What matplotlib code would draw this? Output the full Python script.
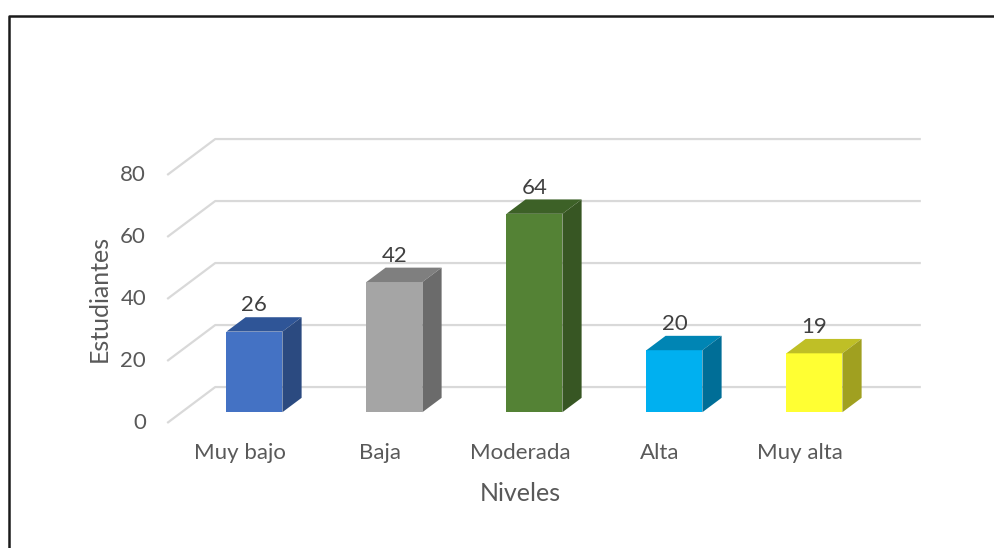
import numpy as np
import matplotlib.pyplot as plt
from matplotlib.patches import Polygon
from matplotlib.lines import Line2D

plt.rcParams['font.family'] = ['Lato', 'DejaVu Sans']

categorias = ["Muy bajo", "Baja", "Moderada", "Alta", "Muy alta"]
valores = [26, 42, 64, 20, 19]
ticks_y = [0, 20, 40, 60, 80]
col_frente = ["#4472C4", "#A5A5A5", "#548235", "#00B0F0", "#FFFF33"]
col_arriba = ["#2F5597", "#7F7F7F", "#3D6127", "#0085B4", "#BFBF26"]
col_lado = ["#2B4A80", "#6B6B6B", "#375623", "#006E97", "#A0A020"]

# pseudo 3d depth (front -> back wall) in data units
dx, dy = 0.343, 11.6
f0, f1 = 0.3, 0.7  # bar depth range
ancho = 0.4

fig = plt.figure(figsize=(9.94, 5.48), dpi=100)
ax = fig.add_axes([0, 0, 1, 1])
ax.set_xlim(-240 / 140, (994 - 240) / 140)
ax.set_ylim((423 - 548) / 3.1, 423 / 3.1)
ax.axis('off')

x = np.arange(len(categorias))
xl0, xr0 = -0.52, 4.52

# gridlines: diagonal on the left side + back wall
for v in ticks_y:
    ax.plot([xl0, xl0 + dx, xr0 + dx], [v, v + dy, v + dy],
            color="#D9D9D9", lw=1.6, zorder=1, solid_capstyle='butt')
    ax.text(-0.671, v, str(v), ha='right', va='center', fontsize=16,
            color="#595959")

# bars
xc = x + f0 * dx
yb = f0 * dy
ax.bar(xc, valores, width=ancho, bottom=yb, color=col_frente, zorder=3)
ddx, ddy = (f1 - f0) * dx, (f1 - f0) * dy
for i, v in enumerate(valores):
    xl, xr = xc[i] - ancho / 2, xc[i] + ancho / 2
    yt = yb + v
    top = Polygon([(xl, yt), (xr, yt), (xr + ddx, yt + ddy), (xl + ddx, yt + ddy)],
                  closed=True, facecolor=col_arriba[i], edgecolor='none', zorder=3)
    side = Polygon([(xr, yb), (xr + ddx, yb + ddy), (xr + ddx, yt + ddy), (xr, yt)],
                   closed=True, facecolor=col_lado[i], edgecolor='none', zorder=3)
    ax.add_patch(top)
    ax.add_patch(side)
    ax.text(xc[i], yt + ddy + 3.8, str(v), ha='center', va='center',
            fontsize=16, color="#404040", zorder=4)

for i, c in enumerate(categorias):
    ax.text(x[i], -9.7, c, ha='center', va='center', fontsize=16, color="#595959")

ax.text(2, -22.6, "Niveles", ha='center', va='center', fontsize=18, color="#595959")
ax.text(-1.007, 40.3, "Estudiantes", ha='center', va='center', rotation=90,
        fontsize=18, color="#595959")

# outer frame (only left and top visible)
fig.add_artist(Line2D([8.5 / 994, 8.5 / 994, 1], [0, 1 - 16 / 548, 1 - 16 / 548],
                      transform=fig.transFigure, color="#1A1A1A", lw=1.8))

fig.savefig("out.png", dpi=100)
